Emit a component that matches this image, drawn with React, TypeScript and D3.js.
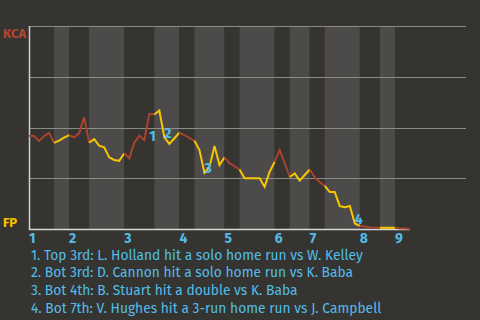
import React from "react";
import * as d3 from "d3";

// Win probability for KCA after each plate appearance (index 0 = game start)
const wpKCA: number[] = [
  0.458, 0.458, 0.433, 0.458, 0.473, 0.424, 0.435, 0.45, 0.462, 0.452,
  0.471, 0.55, 0.425, 0.443, 0.41, 0.402, 0.353, 0.34, 0.336, 0.373,
  0.348, 0.425, 0.46, 0.438, 0.567, 0.564, 0.583, 0.452, 0.419, 0.447,
  0.475, 0.463, 0.448, 0.435, 0.389, 0.277, 0.305, 0.409, 0.315, 0.353,
  0.324, 0.31, 0.293, 0.25, 0.25, 0.25, 0.25, 0.208, 0.282, 0.33,
  0.389, 0.325, 0.256, 0.274, 0.238, 0.266, 0.293, 0.254, 0.232, 0.212,
  0.182, 0.182, 0.113, 0.107, 0.113, 0.027, 0.015, 0.012, 0.008, 0.006,
  0.006, 0.006, 0.006, 0.006, 0.003, 0.002, 0.0,
];

// Plate appearances per half inning (top 1st, bottom 1st, ...)
const halfInningPAs: number[] = [5, 3, 4, 7, 6, 5, 3, 6, 3, 7, 3, 4, 3, 7, 4, 3, 3];

const innings: string[] = ["1", "2", "3", "4", "5", "6", "7", "8", "9"];

const gridTicks: number[] = [0.25, 0.5, 0.75, 1];

const eventIdx: number[] = [24, 27, 35, 65];
const eventLabels: string[] = ["1", "2", "3", "4"];
const eventTexts: string[] = [
  "1. Top 3rd: L. Holland hit a solo home run vs W. Kelley",
  "2. Bot 3rd: D. Cannon hit a solo home run vs K. Baba",
  "3. Bot 4th: B. Stuart hit a double vs K. Baba",
  "4. Bot 7th: V. Hughes hit a 3-run home run vs J. Campbell",
];

const awayTeam = "KCA";
const homeTeam = "FP";

const BG = "#363430";
const LIGHT = "#4c4b49";
const AWAY_C = "#a8432f";
const HOME_C = "#f7c600";
const BLUE = "#52bdea";
const FONT = "'Fira Sans', Roboto, 'Noto Sans', sans-serif";

export default function App() {
  const W = 480, H = 320;
  const left = 29, right = 410, top = 26, bottom = 229, gridRight = 466;
  const n = wpKCA.length - 1;
  const x = d3.scaleLinear().domain([0, n]).range([left, right]);
  const y = d3.scaleLinear().domain([0, 1]).range([bottom, top]);

  const bounds: number[] = [0];
  halfInningPAs.forEach((c) => bounds.push(bounds[bounds.length - 1] + c));

  const segPath = (s: number, e: number) => {
    const idx = d3.range(s, e + 1);
    return d3
      .line<number>()
      .x((i) => x(i))
      .y((i) => y(wpKCA[i]))(idx) as string;
  };

  return (
    <svg
      width={W}
      height={H}
      style={{ position: "absolute", left: 0, top: 0, display: "block" }}
      fontFamily={FONT}
    >
      <rect x={0} y={0} width={W} height={H} fill={BG} />
      {halfInningPAs.map((_, k) => (
        <rect
          key={"b" + k}
          x={x(bounds[k])}
          y={top}
          width={x(bounds[k + 1]) - x(bounds[k])}
          height={bottom - top}
          fill={k % 2 === 0 ? BG : LIGHT}
        />
      ))}
      {gridTicks.map((t) => (
        <line
          key={"g" + t}
          x1={left}
          x2={gridRight}
          y1={Math.round(y(t)) + 0.5}
          y2={Math.round(y(t)) + 0.5}
          stroke="#8c8b88"
          strokeWidth={1.2}
        />
      ))}
      <line x1={left + 0.5} x2={left + 0.5} y1={top} y2={bottom + 1} stroke="#d0d0ce" strokeWidth={1.5} />
      <line x1={left} x2={right} y1={bottom + 0.5} y2={bottom + 0.5} stroke="#d8d8d6" strokeWidth={1.5} />
      {halfInningPAs.map((_, k) => (
        <path
          key={"l" + k}
          d={segPath(bounds[k], bounds[k + 1])}
          fill="none"
          stroke={k % 2 === 0 ? AWAY_C : HOME_C}
          strokeWidth={2}
          strokeLinejoin="miter"
        />
      ))}
      {eventIdx.map((ei, j) => (
        <text
          key={"e" + j}
          x={x(ei)}
          y={y(Math.min(wpKCA[ei - 1], wpKCA[ei])) + 0.5}
          fill={BLUE}
          fontSize={14}
          fontWeight="bold"
        >
          {eventLabels[j]}
        </text>
      ))}
      {innings.map((lab, k) => (
        <text
          key={"i" + k}
          x={x(bounds[k * 2])}
          y={243}
          fill={BLUE}
          fontSize={14}
          fontWeight="bold"
        >
          {lab}
        </text>
      ))}
      <text x={3} y={38} fill="#b5452f" fontSize={13} fontWeight="bold">
        {awayTeam}
      </text>
      <text x={3} y={227} fill="#f5c400" fontSize={13} fontWeight="bold">
        {homeTeam}
      </text>
      {eventTexts.map((t, j) => (
        <text key={"t" + j} x={31} y={259.5 + j * 17.8} fill={BLUE} fontSize={13.8}>
          {t}
        </text>
      ))}
    </svg>
  );
}
